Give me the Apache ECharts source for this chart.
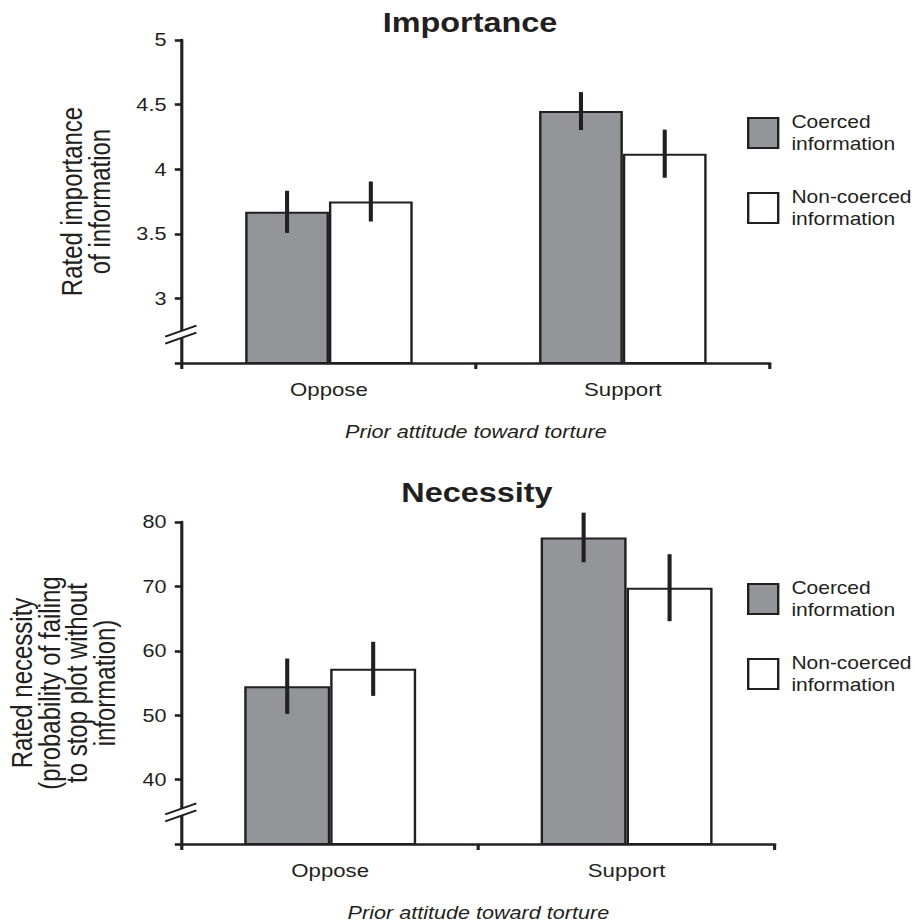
<!DOCTYPE html>
<html>
<head>
<meta charset="utf-8">
<script src="https://cdn.jsdelivr.net/npm/echarts@6/dist/echarts.min.js"></script>
<style>
html,body{margin:0;padding:0;background:#fff;overflow:hidden;}
#chart{position:absolute;left:0;top:0;height:924px;transform-origin:0 0;}
</style>
</head>
<body>
<div id="chart"></div>
<script>
// ---- data ----
const categories = ['Oppose', 'Support'];
const seriesNames = ['Coerced information', 'Non-coerced information'];
const impCoerced = [3.67, 4.45];
const impCoercedErr = [0.163, 0.147];
const impNon = [3.75, 4.12];
const impNonErr = [0.155, 0.186];
const necCoerced = [54.5, 77.6];
const necCoercedErr = [4.3, 3.85];
const necNon = [57.2, 69.8];
const necNonErr = [4.2, 5.2];
const impTicks = {min: 2.5, max: 5, interval: 0.5, brk: 2.72};
const necTicks = {min: 30, max: 80, interval: 10, brk: 34.9};

// ---- layout ----
const S = 1.2;               // horizontal stretch of the reference
const W = 917 / S;
const X = px => px / S;
const dom = document.getElementById('chart');
dom.style.width = W + 'px';
dom.style.transform = 'scaleX(' + S + ')';

const ink = '#231f20';
const gray = '#939598';
const FONT = '"Liberation Sans", Arial, Helvetica, sans-serif';
const BW = [0.285, 0.29];

function errData(vals, errs, side) {
  return vals.map((v, i) => [i, v, errs[i], side]);
}
function errSeries(gi, data) {
  const bw = BW[gi];
  return {
    type: 'custom', xAxisIndex: gi, yAxisIndex: gi, z: 5, silent: true,
    encode: {x: 0, y: 1},
    data: data,
    renderItem: function (params, api) {
      const c = api.coord([api.value(0), api.value(1)]);
      const cw = api.size([1, 0])[0];
      const x = c[0] + api.value(3) * cw * bw / 2;
      const y1 = api.coord([api.value(0), api.value(1) + api.value(2)])[1];
      const y2 = api.coord([api.value(0), api.value(1) - api.value(2)])[1];
      return {type: 'line', shape: {x1: x, y1: y1, x2: x, y2: y2},
              style: {stroke: ink, lineWidth: 3.4}};
    }
  };
}
function breakSeries(gi, val) {
  return {
    type: 'custom', xAxisIndex: gi, yAxisIndex: gi, z: 6, silent: true,
    data: [[0, val]],
    renderItem: function (params, api) {
      const cs = params.coordSys;
      const x = cs.x;
      const y = api.coord([0, api.value(1)])[1];
      const a = 3.5, l = 14, r = 12, d = 5.5;
      return {type: 'group', children: [
        {type: 'polygon', shape: {points: [[x - l, y + d - a], [x + r, y - d - a], [x + r, y - d + a], [x - l, y + d + a]]},
         style: {fill: '#fff'}},
        {type: 'line', shape: {x1: x - l, y1: y + d - a, x2: x + r, y2: y - d - a}, style: {stroke: ink, lineWidth: 2}},
        {type: 'line', shape: {x1: x - l, y1: y + d + a, x2: x + r, y2: y - d + a}, style: {stroke: ink, lineWidth: 2}}
      ]};
    }
  };
}
function barSeries(gi, name, vals, fill) {
  return {
    type: 'bar', name: name, xAxisIndex: gi, yAxisIndex: gi,
    data: vals, barWidth: (BW[gi] * 100) + '%', barGap: '0%',
    itemStyle: {color: fill, borderColor: ink, borderWidth: 2},
    emphasis: {disabled: true}
  };
}
function xAx(gi) {
  return {
    type: 'category', gridIndex: gi, data: categories,
    axisLine: {show: true, lineStyle: {color: ink, width: 2.6}},
    axisTick: {show: true, length: 6, alignWithLabel: false, lineStyle: {color: ink, width: 2.6}},
    axisLabel: {fontSize: 18.5, color: ink, margin: 17, fontFamily: FONT},
    name: 'Prior attitude toward torture', nameLocation: 'middle', nameGap: 60,
    nameTextStyle: {fontSize: 18, fontStyle: 'italic', color: ink, fontFamily: FONT},
    splitLine: {show: false}
  };
}
function yAx(gi, t, name, gap) {
  return {
    type: 'value', gridIndex: gi, min: t.min, max: t.max, interval: t.interval,
    axisLine: {show: true, lineStyle: {color: ink, width: 2.6}},
    axisTick: {show: true, length: 6, lineStyle: {color: ink, width: 2.6}},
    axisLabel: {fontSize: 18, color: ink, margin: 13, fontFamily: FONT,
                formatter: v => (Math.abs(v - t.min) < 1e-9 ? '' : String(v))},
    splitLine: {show: false},
    name: name, nameLocation: 'middle', nameRotate: 90, nameGap: gap,
    nameTextStyle: {fontSize: 24, lineHeight: 23, color: ink, fontFamily: FONT, align: 'center'}
  };
}
function legend(top) {
  return {
    orient: 'vertical', left: X(747), top: top, itemWidth: 30 / S, itemHeight: 30,
    itemGap: 31, selectedMode: false, icon: 'rect', padding: 0,
    data: [
      {name: seriesNames[0], itemStyle: {color: gray, borderColor: ink, borderWidth: 2}},
      {name: seriesNames[1], itemStyle: {color: '#fff', borderColor: ink, borderWidth: 2}}
    ],
    formatter: n => n.replace(' ', '\n'),
    textStyle: {fontSize: 17.5, lineHeight: 22, color: ink, fontFamily: FONT, padding: [0, 0, 0, 6]}
  };
}

const chart = echarts.init(dom, null, {renderer: 'svg'});
chart.setOption({
  animation: false,
  backgroundColor: '#fff',
  textStyle: {fontFamily: FONT},
  title: [
    {text: 'Importance', left: X(470), top: 9, textAlign: 'center', padding: 0,
     textStyle: {fontSize: 27, fontWeight: 'bold', color: ink, fontFamily: FONT}},
    {text: 'Necessity', left: X(477), top: 479, textAlign: 'center', padding: 0,
     textStyle: {fontSize: 27, fontWeight: 'bold', color: ink, fontFamily: FONT}}
  ],
  legend: [legend(111), legend(577)],
  grid: [
    {left: X(182), right: W - X(770), top: 40, height: 323, outerBoundsMode: 'none', containLabel: false},
    {left: X(182), right: W - X(775), top: 522, height: 322, outerBoundsMode: 'none', containLabel: false}
  ],
  xAxis: [xAx(0), xAx(1)],
  yAxis: [
    yAx(0, impTicks, 'Rated importance\nof information', X(68)),
    yAx(1, necTicks, 'Rated necessity\n(probability of failing\nto stop plot without\ninformation)', X(63))
  ],
  series: [
    barSeries(0, seriesNames[0], impCoerced, gray),
    barSeries(0, seriesNames[1], impNon, '#fff'),
    errSeries(0, errData(impCoerced, impCoercedErr, -1).concat(errData(impNon, impNonErr, 1))),
    breakSeries(0, impTicks.brk),
    barSeries(1, seriesNames[0], necCoerced, gray),
    barSeries(1, seriesNames[1], necNon, '#fff'),
    errSeries(1, errData(necCoerced, necCoercedErr, -1).concat(errData(necNon, necNonErr, 1))),
    breakSeries(1, necTicks.brk)
  ]
});
</script>
</body>
</html>
